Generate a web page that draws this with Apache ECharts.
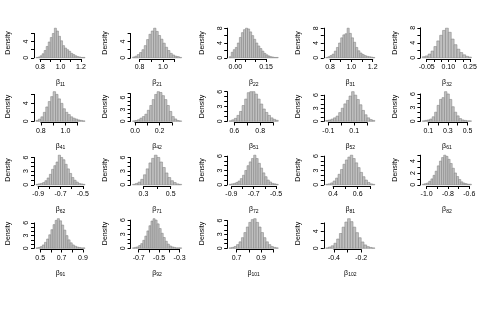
<!DOCTYPE html>
<html><head><meta charset="utf-8">
<script src="https://cdn.jsdelivr.net/npm/echarts@6/dist/echarts.min.js"></script>
<style>html,body{margin:0;padding:0;background:#fff}#c{width:483px;height:312px}</style>
</head><body><div id="c"></div>
<script>
// ---------- DATA ----------
const subscripts = ['11','21','22','31','32','41','42','51','52','61','62','71','72','81','82','91','92','101','102'];
const binStarts = [0.76,0.74,-0.03,0.76,-0.08, 0.76,-0.02,0.56,-0.12,0.04, -0.92,0.22,-0.92,0.34,-1.04, 0.46,-0.76,0.64,-0.46];
const binWidths = [0.02,0.02,0.01,0.02,0.02, 0.02,0.02,0.02,0.02,0.025, 0.02,0.02,0.02,0.02,0.02, 0.02,0.02,0.02,0.02];
const d11 = [0.1,0.2,0.5,1.0,1.8,2.8,3.9,5.0,6.0,7.3,6.6,5.3,4.2,3.0,2.4,2.0,1.6,1.1,0.8,0.5,0.3,0.2,0.1,0.1];
const d21 = [0.2,0.4,0.8,1.3,2.0,3.0,4.5,5.8,6.6,7.3,6.5,5.5,4.6,3.6,2.6,1.8,1.1,0.7,0.4,0.3,0.1];
const d22 = [0.3,1.5,2.2,2.8,4.0,5.5,6.8,7.6,8.0,7.8,7.0,6.0,5.0,4.0,3.2,2.5,1.8,1.2,0.8,0.5,0.3,0.2,0.1,0.1];
const d31 = [0.1,0.3,0.6,1.0,1.8,2.8,4.0,5.4,6.2,6.5,8.0,6.6,5.4,4.2,2.8,1.9,1.3,0.9,0.6,0.4,0.3,0.2,0.1];
const d32 = [0.3,0.5,1.0,1.8,3.0,4.5,6.0,7.3,7.9,6.8,5.0,3.5,2.3,1.4,0.8,0.4,0.2];
const d41 = [0.2,0.5,1.0,2.0,3.2,4.4,5.5,6.6,6.0,5.0,4.0,2.8,2.0,1.5,1.0,0.7,0.5,0.3,0.2,0.1];
const d42 = [0.1,0.2,0.4,0.8,1.2,1.8,2.8,4.0,5.5,6.8,7.5,7.3,6.5,5.5,4.0,2.5,1.2,0.6,0.2,0.1];
const d51 = [0.1,0.3,0.6,1.2,2.0,3.2,4.5,5.8,6.0,6.0,5.5,4.5,3.5,2.5,1.8,1.2,0.7,0.4,0.2];
const d52 = [0.2,0.3,0.5,0.8,1.2,2.0,3.0,4.0,4.8,5.8,6.8,6.0,5.0,3.8,2.5,1.5,0.8,0.4,0.2];
const d61 = [0.1,0.2,0.3,0.5,1.0,2.0,3.5,4.8,5.2,6.5,6.0,4.8,3.2,2.0,1.2,0.6,0.3,0.2,0.1,0.1];
const d62 = [0.1,0.2,0.3,0.5,0.9,1.5,2.3,3.4,4.2,5.0,6.5,6.0,5.5,4.5,3.5,2.5,1.6,1.0,0.6,0.3,0.2,0.1];
const d71 = [0.1,0.3,0.6,1.2,2.2,3.5,4.8,5.8,6.5,6.0,5.0,3.8,2.6,1.6,0.9,0.5,0.2,0.1];
const d72 = [0.1,0.2,0.3,0.5,0.8,1.3,2.0,3.0,4.0,4.8,5.5,6.2,5.5,4.5,3.5,2.5,1.7,1.0,0.6,0.3,0.2,0.1];
const d81 = [0.1,0.2,0.4,0.8,1.4,2.2,3.2,4.3,5.2,5.8,6.2,5.5,4.6,3.6,2.6,1.7,1.0,0.5,0.2,0.1];
const d82 = [0.1,0.2,0.3,0.6,1.0,1.6,2.3,3.2,4.0,4.6,5.0,4.8,4.3,3.6,2.8,2.0,1.4,0.9,0.5,0.3,0.2,0.1,0.1];
const d91 = [0.1,0.2,0.4,0.8,1.4,2.2,3.2,4.4,5.6,6.6,7.0,6.5,5.5,4.3,3.0,2.0,1.3,0.8,0.5,0.3,0.2,0.1,0.1];
const d92 = [0.1,0.2,0.3,0.6,1.0,1.7,2.6,3.7,4.8,5.8,6.3,6.0,5.2,4.2,3.2,2.3,1.5,0.9,0.5,0.3,0.2,0.1,0.1,0.1];
const d101 = [0.1,0.2,0.4,0.8,1.4,2.3,3.4,4.6,5.6,6.2,6.4,5.6,4.6,3.4,2.3,1.4,0.8,0.4,0.2,0.1];
const d102 = [0.1,0.3,0.6,1.2,2.2,3.5,5.0,6.2,7.0,6.3,5.0,3.7,2.5,1.5,0.8,0.4,0.2,0.1];
const densities = [d11,d21,d22,d31,d32,d41,d42,d51,d52,d61,d62,d71,d72,d81,d82,d91,d92,d101,d102];

const xTicks = [
  [0.8,0.9,1.0,1.1,1.2],[0.8,0.9,1.0,1.1],[0,0.05,0.1,0.15],[0.8,0.9,1.0,1.1,1.2],[-0.05,0,0.05,0.1,0.15,0.2,0.25],
  [0.8,0.9,1.0,1.1],[0,0.1,0.2,0.3],[0.6,0.7,0.8,0.9],[-0.1,0,0.1,0.2],[0.1,0.2,0.3,0.4,0.5],
  [-0.9,-0.8,-0.7,-0.6,-0.5],[0.3,0.4,0.5],[-0.9,-0.8,-0.7,-0.6,-0.5],[0.4,0.5,0.6,0.7],[-1.0,-0.9,-0.8,-0.7,-0.6],
  [0.5,0.6,0.7,0.8,0.9],[-0.7,-0.6,-0.5,-0.4,-0.3],[0.7,0.8,0.9,1.0],[-0.4,-0.3,-0.2]
];
const xTickLabels = [
  ['0.8','1.0','1.2'],['0.8','1.0'],['0.00','0.15'],['0.8','1.0','1.2'],['-0.05','0.10','0.25'],
  ['0.8','1.0'],['0.0','0.2'],['0.6','0.8'],['-0.1','0.1'],['0.1','0.3','0.5'],
  ['-0.9','-0.7','-0.5'],['0.3','0.5'],['-0.9','-0.7','-0.5'],['0.4','0.6'],['-1.0','-0.8','-0.6'],
  ['0.5','0.7','0.9'],['-0.7','-0.5','-0.3'],['0.7','0.9'],['-0.4','-0.2']
];
const yTicks = [
  [0,2,4,6],[0,2,4,6],[0,2,4,6,8],[0,2,4,6,8],[0,2,4,6,8],
  [0,2,4,6],[0,1,2,3,4,5,6,7],[0,1,2,3,4,5,6],[0,1,2,3,4,5,6],[0,1,2,3,4,5,6],
  [0,1,2,3,4,5,6],[0,1,2,3,4,5,6],[0,1,2,3,4,5,6],[0,1,2,3,4,5,6],[0,1,2,3,4,5],
  [0,1,2,3,4,5,6],[0,1,2,3,4,5,6],[0,1,2,3,4,5,6],[0,2,4,6]
];
const yTickLabels = [
  ['0','4'],['0','4'],['0','4','8'],['0','4','8'],['0','4','8'],
  ['0','4'],['0','3','6'],['0','3','6'],['0','3','6'],['0','3','6'],
  ['0','3','6'],['0','3','6'],['0','3','6'],['0','3','6'],['0','2','4'],
  ['0','3','6'],['0','3','6'],['0','3','6'],['0','4']
];

// ---------- LAYOUT ----------
const CW = 96.6, PL = 34, PR = 87;
const RT = 27, RB = 59, RH = 63.5;
const FONT = 'Liberation Sans, Arial, Helvetica, sans-serif';
const FS = 7;
const BAR_FILL = '#c0c0c0', BAR_STROKE = '#7a7a7a';

const option = {animation:false, grid:[], xAxis:[], yAxis:[], series:[]};
const hidden = {axisLine:{show:false}, axisTick:{show:false}, axisLabel:{show:false}, splitLine:{show:false}};

function labelFmt(list, step){
  return function(v){
    for (const s of list){ if (Math.abs(parseFloat(s) - v) < step*1e-3) return s; }
    return '';
  };
}

densities.forEach((dens, i) => {
  const c = i % 5, r = Math.floor(i / 5);
  const L = c*CW + PL, R = c*CW + PR, T = RT + r*RH, B = RB + r*RH;
  const w = binWidths[i], s0 = binStarts[i];
  const x0 = s0, x1 = s0 + dens.length*w;
  const xr = x1 - x0, xmin = x0 - 0.04*xr, xmax = x1 + 0.04*xr;
  const dmax = Math.max(...dens), ymin = -0.04*dmax, ymax = 1.04*dmax;
  const px = v => L + (v - xmin)/(xmax - xmin)*(R - L);
  const py = v => B - (v - ymin)/(ymax - ymin)*(B - T);

  let g = option.grid.length;
  option.grid.push({left:L, top:T, width:R-L, height:B-T, containLabel:false});
  option.xAxis.push(Object.assign({gridIndex:g, type:'value', min:xmin, max:xmax,
    name:'{b|β}{s|' + subscripts[i] + '}', nameLocation:'middle', nameGap:19,
    nameTextStyle:{rich:{b:{fontSize:FS, fontFamily:FONT, color:'#000'}, s:{fontSize:5, fontFamily:FONT, color:'#000', padding:[4,0,0,0]}}}}, hidden));
  option.yAxis.push(Object.assign({gridIndex:g, type:'value', min:ymin, max:ymax,
    name:'Density', nameLocation:'middle', nameGap:22,
    nameTextStyle:{fontSize:FS, fontFamily:FONT, color:'#000'}}, hidden));
  option.series.push({type:'custom', xAxisIndex:g, yAxisIndex:g, clip:false,
    data: dens.map((d, k) => [s0 + k*w, s0 + (k+1)*w, d]),
    encode:{x:[0,1], y:2},
    renderItem: (params, api) => {
      const a = api.coord([api.value(0), api.value(2)]);
      const b = api.coord([api.value(1), 0]);
      return {type:'rect', shape:{x:a[0], y:a[1], width:b[0]-a[0], height:b[1]-a[1]},
        style:{fill:BAR_FILL, stroke:BAR_STROKE, lineWidth:0.5}};
    }});

  const xt = xTicks[i], xs = +(xt[1]-xt[0]).toFixed(6);
  g = option.grid.length;
  option.grid.push({left:px(xt[0]), width:px(xt[xt.length-1]) - px(xt[0]), top:B-1, height:1});
  option.xAxis.push({gridIndex:g, type:'value', min:xt[0], max:xt[xt.length-1], interval:xs,
    axisLine:{show:true, lineStyle:{color:'#000', width:1}},
    axisTick:{show:true, length:3, lineStyle:{color:'#000', width:1}},
    axisLabel:{show:true, fontSize:FS, fontFamily:FONT, color:'#000', margin:5, hideOverlap:false,
      showMinLabel:true, showMaxLabel:true, formatter: labelFmt(xTickLabels[i], xs)},
    splitLine:{show:false}});
  option.yAxis.push(Object.assign({gridIndex:g, type:'value', min:0, max:1}, hidden));

  const yt = yTicks[i], ys = yt[1]-yt[0];
  g = option.grid.length;
  option.grid.push({left:L, width:1, top:py(yt[yt.length-1]), height:py(0) - py(yt[yt.length-1])});
  option.xAxis.push(Object.assign({gridIndex:g, type:'value', min:0, max:1}, hidden));
  option.yAxis.push({gridIndex:g, type:'value', min:0, max:yt[yt.length-1], interval:ys,
    axisLine:{show:true, lineStyle:{color:'#000', width:1}},
    axisTick:{show:true, length:3, lineStyle:{color:'#000', width:1}},
    axisLabel:{show:true, fontSize:FS, fontFamily:FONT, color:'#000', margin:4, rotate:90, hideOverlap:false,
      showMinLabel:true, showMaxLabel:true, formatter: labelFmt(yTickLabels[i], ys)},
    splitLine:{show:false}});
});

const chart = echarts.init(document.getElementById('c'), null, {renderer:'canvas'});
chart.setOption(option);
</script>
</body></html>
